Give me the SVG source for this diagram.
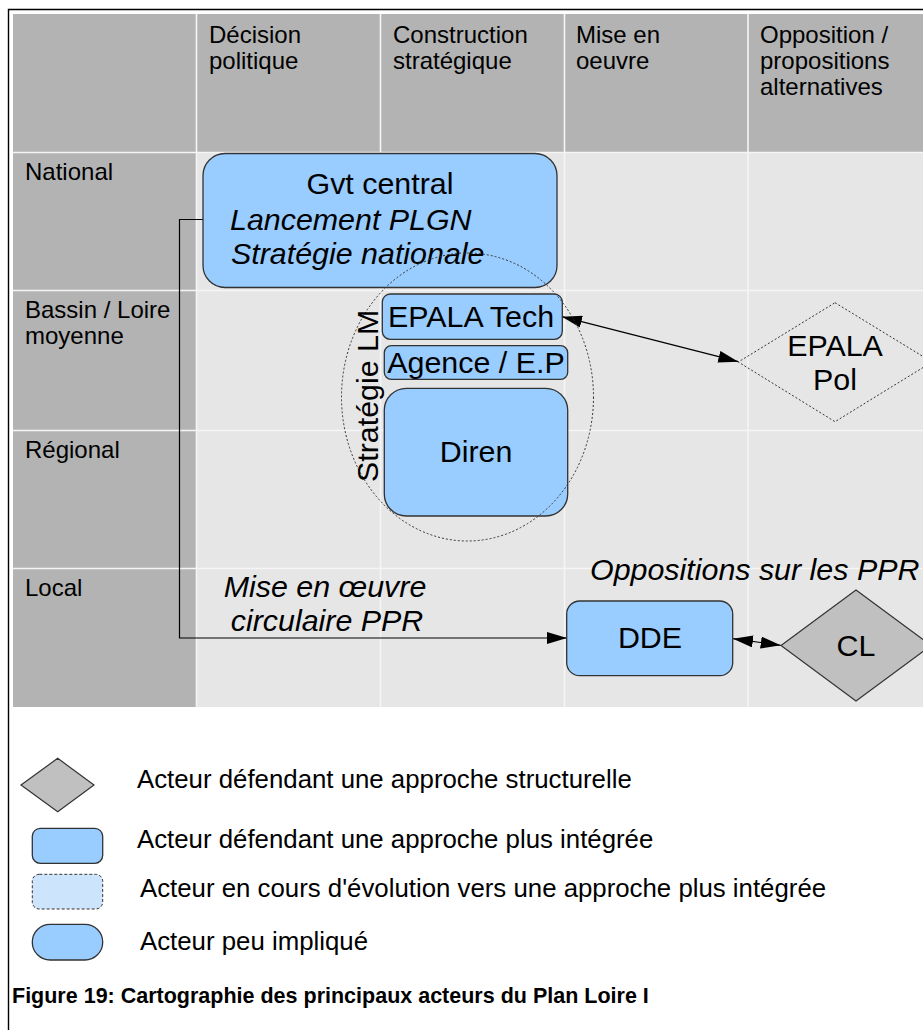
<svg xmlns="http://www.w3.org/2000/svg" width="923" height="1030" viewBox="0 0 923 1030">
<defs>
<style>
text{font-family:"Liberation Sans",Arial,sans-serif;fill:#000}
.hd{font-size:24px}
.big{font-size:30.4px}
.it{font-style:italic}
.mid{text-anchor:middle}
.lg{font-size:25.8px}
.cap{font-size:21.5px;font-weight:bold}
.box{fill:#99ccff;stroke:#333;stroke-width:1.3}
.grid{stroke:#f5f5f5;stroke-width:1.6}
.dot{fill:none;stroke:#333;stroke-width:1;stroke-dasharray:2 2}
.conn{fill:none;stroke:#000;stroke-width:1.2}
.dia{fill:#c0c0c0;stroke:#333;stroke-width:1.2}
</style>
<marker id="arr" viewBox="0 0 20 12" refX="20" refY="6" markerWidth="20" markerHeight="12" markerUnits="userSpaceOnUse" orient="auto-start-reverse">
<path d="M0,0 L20,6 L0,12 z" fill="#000"/>
</marker>
</defs>
<rect x="0" y="0" width="923" height="1030" fill="#fff"/>
<g id="frame">
<path d="M8.5,1030 V9.5 H923" fill="none" stroke="#000" stroke-width="1.4"/>
</g>
<g id="table">
<rect x="13" y="14" width="910" height="693" fill="#e6e6e6"/>
<rect x="13" y="14" width="183.5" height="693" fill="#b3b3b3"/>
<rect x="13" y="14" width="910" height="138.5" fill="#b3b3b3"/>
<path class="grid" d="M196.5,14 V707 M380.5,14 V707 M564.5,14 V707 M748,14 V707 M13,152.5 H923 M13,290.5 H923 M13,430.5 H923 M13,568.5 H923"/>
<text class="hd" x="209" y="42.7">Décision</text>
<text class="hd" x="209" y="68.7">politique</text>
<text class="hd" x="393" y="42.7">Construction</text>
<text class="hd" x="393" y="68.7">stratégique</text>
<text class="hd" x="576" y="42.7">Mise en</text>
<text class="hd" x="576" y="68.7">oeuvre</text>
<text class="hd" x="760" y="42.7">Opposition /</text>
<text class="hd" x="760" y="68.7">propositions</text>
<text class="hd" x="760" y="95">alternatives</text>
<text class="hd" x="25" y="180">National</text>
<text class="hd" x="25" y="318">Bassin / Loire</text>
<text class="hd" x="25" y="344">moyenne</text>
<text class="hd" x="25" y="458">Régional</text>
<text class="hd" x="25" y="596">Local</text>
</g>
<g id="connectors">
<path class="conn" d="M203,219.5 H179.5 V638 H567" marker-end="url(#arr)"/>
<line class="conn" x1="562" y1="316.7" x2="738.3" y2="361.7" marker-start="url(#arr)" marker-end="url(#arr)"/>
<line class="conn" x1="733" y1="638.7" x2="780.7" y2="645.3" marker-start="url(#arr)" marker-end="url(#arr)"/>
<text class="big it" x="325" y="597" text-anchor="middle">Mise en œuvre</text>
<text class="big it" x="327" y="631" text-anchor="middle">circulaire PPR</text>
</g>
<g id="gvt-central">
<rect class="box" x="203" y="153.5" width="354" height="134" rx="22"/>
<text class="big mid" x="380" y="194">Gvt central</text>
<text class="big it" x="230" y="230">Lancement PLGN</text>
<text class="big it" x="231" y="264">Stratégie nationale</text>
</g>
<g id="epala-tech">
<rect class="box" x="382.3" y="294" width="180" height="45.3" rx="8"/>
<text class="big mid" x="471" y="327">EPALA Tech</text>
</g>
<g id="agence-ep">
<rect class="box" x="384.3" y="345.7" width="183.4" height="33.6" rx="7"/>
<text class="big mid" x="476" y="372.5">Agence / E.P</text>
</g>
<g id="diren">
<rect class="box" x="384.3" y="388.3" width="183.4" height="127.7" rx="22"/>
<text class="big mid" x="476" y="462">Diren</text>
</g>
<g id="strategie-lm">
<ellipse class="dot" cx="467.5" cy="397" rx="126" ry="144"/>
<text class="big" transform="translate(378,482) rotate(-90)">Stratégie LM</text>
</g>
<g id="epala-pol">
<polygon class="dot" points="835,302.7 932,362 835,421.7 738.3,362"/>
<text class="big mid" x="835" y="356">EPALA</text>
<text class="big mid" x="835" y="390">Pol</text>
</g>
<g id="dde">
<rect class="box" x="566.7" y="601" width="166" height="74.7" rx="13"/>
<text class="big mid" x="650" y="648">DDE</text>
</g>
<g id="cl">
<polygon class="dia" points="856,590 931,645.5 856,701 781,645.5"/>
<text class="big mid" x="856" y="656">CL</text>
<text class="big it" x="590" y="580">Oppositions sur les PPR</text>
</g>
<g id="legend">
<polygon class="dia" points="21,785 57.7,758.3 94,785 57.7,811.7"/>
<text class="lg" x="137" y="788">Acteur défendant une approche structurelle</text>
<rect class="box" x="32.3" y="828.3" width="70.4" height="35" rx="8"/>
<text class="lg" x="137" y="848">Acteur défendant une approche plus intégrée</text>
<rect x="32.3" y="874.3" width="70.4" height="34.7" rx="7" fill="#cce5fd" stroke="#333" stroke-width="1" stroke-dasharray="3 2"/>
<text class="lg" x="140" y="897">Acteur en cours d'évolution vers une approche plus intégrée</text>
<rect class="box" x="32.3" y="924.3" width="70.4" height="35.7" rx="17.8"/>
<text class="lg" x="140" y="950">Acteur peu impliqué</text>
</g>
<g id="caption">
<text class="cap" x="12" y="1003">Figure 19: Cartographie des principaux acteurs du Plan Loire I</text>
</g>
</svg>
